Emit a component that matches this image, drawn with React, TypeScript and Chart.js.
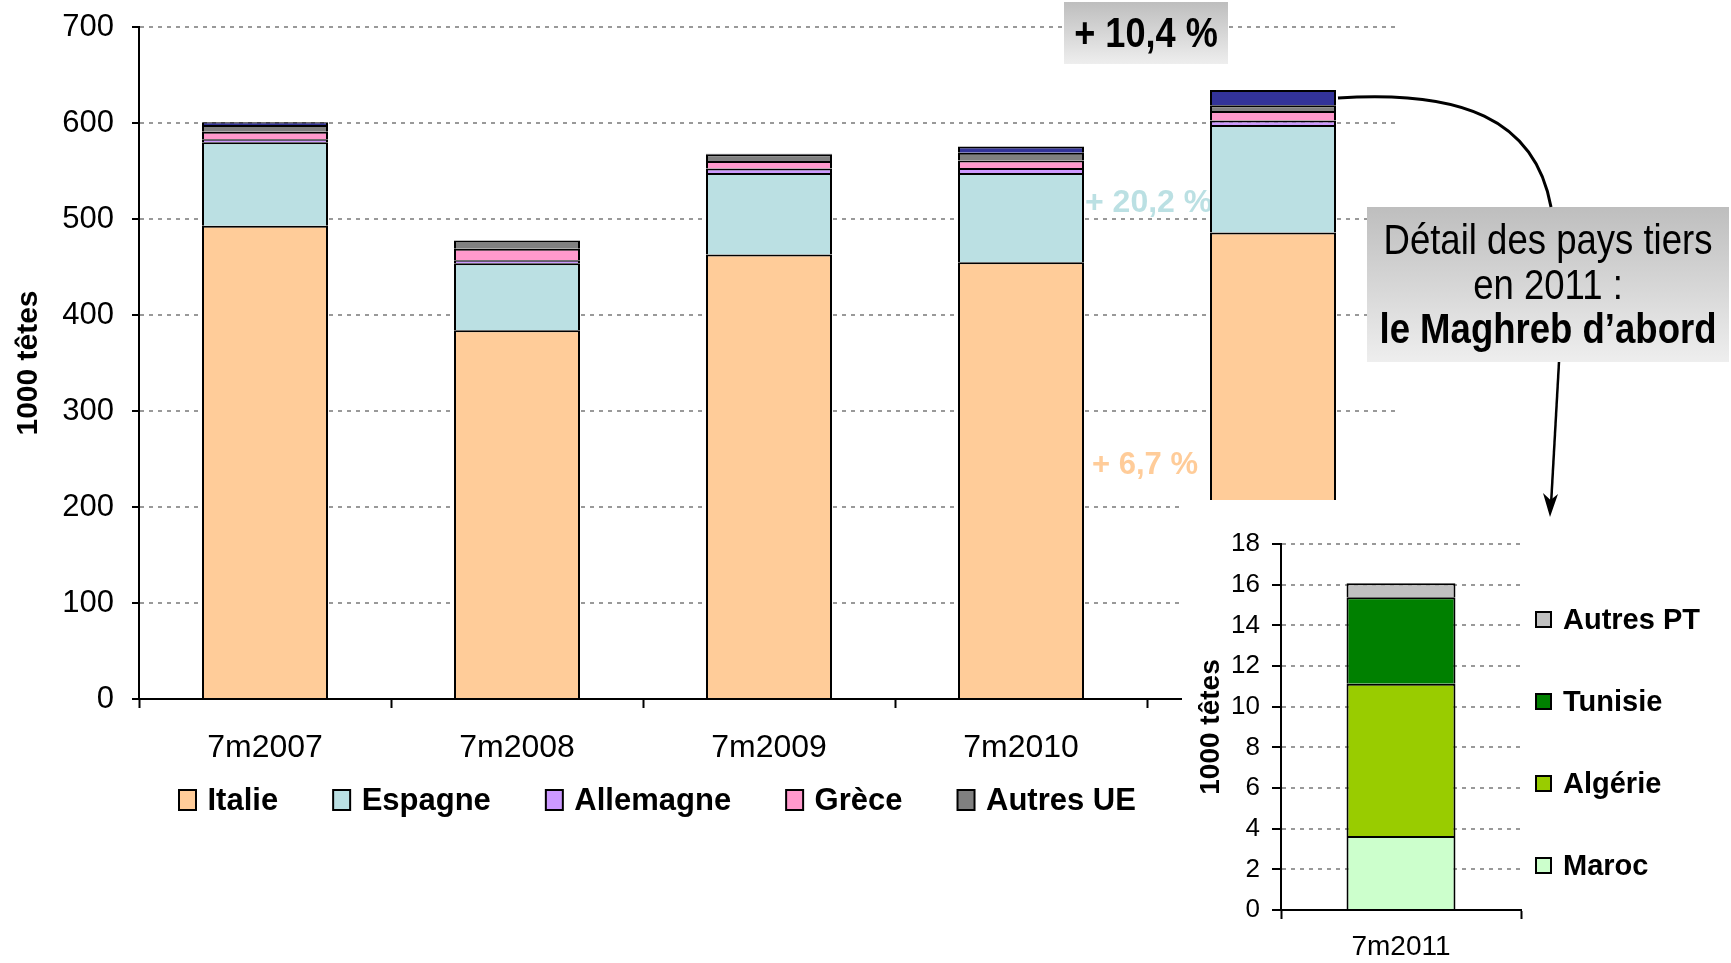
import React, { useEffect, useRef } from 'react';
import { Chart, registerables } from 'chart.js';

Chart.register(...registerables);

const FONT = "'Liberation Sans', Arial, Helvetica, sans-serif";

// ---------- Main chart data (1000 têtes) ----------
const categories = ['7m2007', '7m2008', '7m2009', '7m2010', '7m2011'];
const italie = [493, 384, 463, 455, 486];
const espagne = [87, 70, 85, 93, 112];
const allemagne = [3, 3, 4.5, 5, 4.5];
const grece = [8, 12, 8, 8, 10];
const autresUE = [7, 8.5, 7, 8, 6];
const paysTiers = [2.8, 0, 0.5, 6.5, 16];
const mainTickMax = 700;
const mainTickStep = 100;
const mainLegendSeries = ['Italie', 'Espagne', 'Allemagne', 'Grèce', 'Autres UE'];

// ---------- Inset data: détail des pays tiers 2011 ----------
const insetCategories = ['7m2011'];
const maroc = [3.64];
const algerie = [7.49];
const tunisie = [4.25];
const autresPT = [0.69];
const insetTickMax = 18;
const insetTickStep = 2;

// ---------- Annotation texts ----------
const totalGrowth = '+ 10,4 %';
const espagneGrowth = '+ 20,2 %';
const italieGrowth = '+ 6,7 %';
const detailLines = ['Détail des pays tiers', 'en 2011 :', 'le Maghreb d’abord'];
const yTitle = '1000 têtes';

function gradientBox(ctx: CanvasRenderingContext2D, x: number, y: number, w: number, h: number) {
  const g = ctx.createLinearGradient(0, y, 0, y + h);
  g.addColorStop(0, '#BEBEBE');
  g.addColorStop(1, '#EEEEEE');
  ctx.fillStyle = g;
  ctx.fillRect(x, y, w, h);
}

function condensedText(ctx: CanvasRenderingContext2D, text: string, x: number, y: number, font: string, sx: number) {
  ctx.save();
  ctx.translate(x, y);
  ctx.scale(sx, 1);
  ctx.font = font;
  ctx.fillStyle = '#000';
  ctx.textAlign = 'center';
  ctx.textBaseline = 'middle';
  ctx.fillText(text, 0, 0);
  ctx.restore();
}

const mainAnnotations = {
  id: 'mainAnnotations',
  beforeDatasetsDraw(chart: any) {
    const ctx = chart.ctx as CanvasRenderingContext2D;
    ctx.save();
    ctx.textAlign = 'left';
    ctx.textBaseline = 'middle';
    ctx.font = `bold 32px ${FONT}`;
    ctx.fillStyle = '#BBE0E3';
    ctx.fillText(espagneGrowth, 1085, 203);
    ctx.font = `bold 31px ${FONT}`;
    ctx.fillStyle = '#FFCC99';
    ctx.fillText(italieGrowth, 1092, 465);
    ctx.restore();
  },
  afterDatasetsDraw(chart: any) {
    const ctx = chart.ctx as CanvasRenderingContext2D;
    ctx.save();
    ctx.fillStyle = '#FFFFFF';
    ctx.fillRect(1182, 500, 549, 463);
    ctx.restore();
  },
  afterDraw(chart: any) {
    const ctx = chart.ctx as CanvasRenderingContext2D;
    ctx.save();
    // legend (bottom, left-aligned under the plot)
    const items = chart.data.datasets.filter((d: any) => mainLegendSeries.includes(d.label));
    ctx.font = `bold 31px ${FONT}`;
    ctx.textAlign = 'left';
    ctx.textBaseline = 'middle';
    let x = 179;
    const cy = 800;
    for (const d of items) {
      ctx.fillStyle = d.backgroundColor;
      ctx.fillRect(x, cy - 10, 17, 20);
      ctx.lineWidth = 2;
      ctx.strokeStyle = '#000';
      ctx.strokeRect(x, cy - 10, 17, 20);
      ctx.fillStyle = '#000';
      ctx.fillText(d.label, x + 28.5, cy + 1);
      x += 28.5 + ctx.measureText(d.label).width + 55;
    }
    // + 10,4 % box
    gradientBox(ctx, 1064, 2, 164, 62);
    condensedText(ctx, totalGrowth, 1146, 35, `bold 42px ${FONT}`, 0.86);
    // detail box
    gradientBox(ctx, 1367, 207, 362, 155);
    condensedText(ctx, detailLines[0], 1548, 242, `42px ${FONT}`, 0.87);
    condensedText(ctx, detailLines[1], 1548, 287, `42px ${FONT}`, 0.87);
    condensedText(ctx, detailLines[2], 1548, 331, `bold 42px ${FONT}`, 0.87);
    // curve from 2011 bar to box
    ctx.strokeStyle = '#000';
    ctx.lineWidth = 3;
    ctx.beginPath();
    ctx.moveTo(1338, 98);
    ctx.bezierCurveTo(1460, 90, 1535, 118, 1551, 207);
    ctx.stroke();
    // arrow from box to inset
    ctx.lineWidth = 2.5;
    ctx.beginPath();
    ctx.moveTo(1559, 362);
    ctx.lineTo(1551, 505);
    ctx.stroke();
    ctx.fillStyle = '#000';
    ctx.beginPath();
    ctx.moveTo(1550, 517);
    ctx.lineTo(1543, 493);
    ctx.lineTo(1550.5, 500);
    ctx.lineTo(1558, 494);
    ctx.closePath();
    ctx.fill();
    ctx.restore();
  },
};

const insetLegend = {
  id: 'insetLegend',
  afterDraw(chart: any) {
    const ctx = chart.ctx as CanvasRenderingContext2D;
    const area = chart.chartArea;
    const ds = chart.data.datasets;
    ctx.save();
    ctx.font = `bold 29px ${FONT}`;
    ctx.textAlign = 'left';
    ctx.textBaseline = 'middle';
    for (let i = 0; i < ds.length; i++) {
      const d = ds[ds.length - 1 - i];
      const cy = area.top + 76 + i * 82;
      const bx = area.right + 15;
      ctx.fillStyle = d.backgroundColor;
      ctx.fillRect(bx, cy - 8, 15, 15);
      ctx.lineWidth = 2;
      ctx.strokeStyle = '#000';
      ctx.strokeRect(bx, cy - 8, 15, 15);
      ctx.fillStyle = '#000';
      ctx.fillText(d.label, bx + 27, cy + 1);
    }
    ctx.restore();
  },
};

function barSet(label: string, data: number[], color: string, pct: number) {
  return {
    label,
    data,
    backgroundColor: color,
    borderColor: '#000000',
    borderWidth: 2,
    categoryPercentage: pct,
    barPercentage: 1,
  };
}

export default function App() {
  const mainRef = useRef<HTMLCanvasElement | null>(null);
  const insetRef = useRef<HTMLCanvasElement | null>(null);

  useEffect(() => {
    Chart.defaults.font.family = FONT;
    Chart.defaults.color = '#000';

    const main = new Chart(mainRef.current as HTMLCanvasElement, {
      type: 'bar',
      data: {
        labels: categories,
        datasets: [
          barSet('Italie', italie, '#FFCC99', 0.5),
          barSet('Espagne', espagne, '#BBE0E3', 0.5),
          barSet('Allemagne', allemagne, '#CC99FF', 0.5),
          barSet('Grèce', grece, '#FF99CC', 0.5),
          barSet('Autres UE', autresUE, '#808080', 0.5),
          barSet('Pays tiers', paysTiers, '#333399', 0.5),
        ],
      },
      options: {
        responsive: false,
        animation: false,
        devicePixelRatio: 1,
        layout: { padding: { top: 27, right: 332, bottom: 189, left: 0 } },
        plugins: {
          tooltip: { enabled: false },
          legend: { display: false },
        },
        scales: {
          x: {
            stacked: true,
            grid: { offset: true, drawOnChartArea: false, drawTicks: true, tickLength: 9, tickColor: '#000', tickWidth: 2 },
            border: { color: '#000', width: 2 },
            ticks: { color: '#000', padding: 21, font: { family: FONT, size: 32 }, maxRotation: 0 },
            afterFit: (s: any) => { s.height = 75; },
          },
          y: {
            stacked: true,
            min: 0,
            max: mainTickMax,
            ticks: { stepSize: mainTickStep, color: '#000', padding: 18, font: { family: FONT, size: 31 } },
            grid: { color: '#999999', lineWidth: 2, tickColor: '#000', tickLength: 7, tickWidth: 2 },
            border: { color: '#000', width: 2, dash: [4, 5] },
            title: { display: true, text: yTitle, color: '#000', font: { family: FONT, size: 30, weight: 'bold' }, padding: { top: 11, bottom: 0 } },
            afterFit: (s: any) => { s.width = 139; s.paddingTop = 10; s.paddingBottom = 10; },
          },
        },
      } as any,
      plugins: [mainAnnotations],
    });

    const inset = new Chart(insetRef.current as HTMLCanvasElement, {
      type: 'bar',
      data: {
        labels: insetCategories,
        datasets: [
          barSet('Maroc', maroc, '#CCFFCC', 0.454),
          barSet('Algérie', algerie, '#99CC00', 0.454),
          barSet('Tunisie', tunisie, '#008000', 0.454),
          barSet('Autres PT', autresPT, '#C0C0C0', 0.454),
        ],
      },
      options: {
        responsive: false,
        animation: false,
        devicePixelRatio: 1,
        layout: { padding: { top: 44, right: 210, bottom: 0, left: 0 } },
        plugins: { tooltip: { enabled: false }, legend: { display: false } },
        scales: {
          x: {
            stacked: true,
            grid: { offset: true, drawOnChartArea: false, drawTicks: true, tickLength: 9, tickColor: '#000', tickWidth: 2 },
            border: { color: '#000', width: 2 },
            ticks: { color: '#000', padding: 11, font: { family: FONT, size: 28 }, maxRotation: 0 },
            afterFit: (s: any) => { s.height = 53; },
          },
          y: {
            stacked: true,
            min: 0,
            max: insetTickMax,
            ticks: { stepSize: insetTickStep, color: '#000', padding: 12, font: { family: FONT, size: 26 } },
            grid: { color: '#999999', lineWidth: 2, tickColor: '#000', tickLength: 9, tickWidth: 2 },
            border: { color: '#000', width: 2, dash: [4, 5] },
            title: { display: true, text: yTitle, color: '#000', font: { family: FONT, size: 28, weight: 'bold' }, padding: { top: 12, bottom: 0 } },
            afterFit: (s: any) => { s.width = 99; s.paddingTop = 10; s.paddingBottom = 0; },
          },
        },
      } as any,
      plugins: [insetLegend],
    });

    return () => {
      main.destroy();
      inset.destroy();
    };
  }, []);

  return (
    <div style={{ position: 'absolute', left: 0, top: 0, width: 1731, height: 963, background: '#fff', overflow: 'hidden' }}>
      <canvas ref={mainRef} width={1731} height={963} style={{ position: 'absolute', left: 0, top: 0, display: 'block' }} />
      <canvas ref={insetRef} width={549} height={463} style={{ position: 'absolute', left: 1182, top: 500, display: 'block' }} />
    </div>
  );
}
